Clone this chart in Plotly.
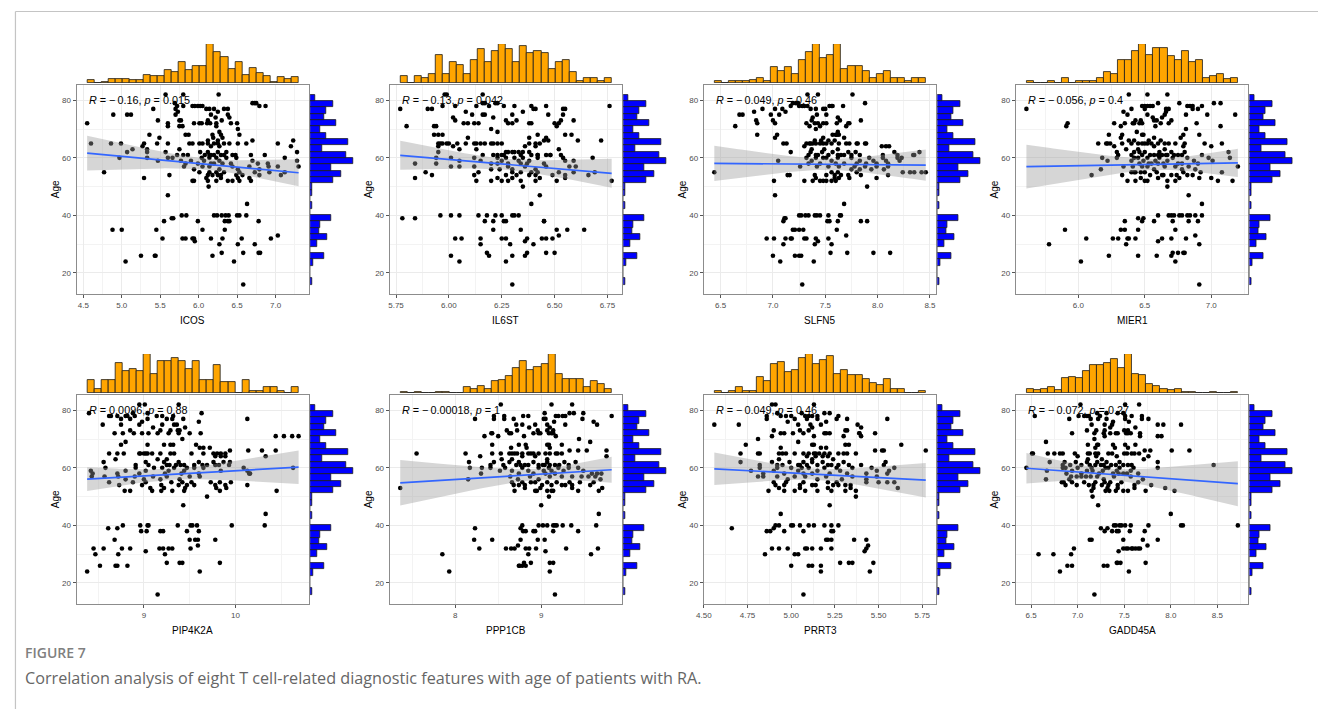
import numpy as np
import plotly.graph_objects as go

W, H = 1318, 709

# ---------------- data ----------------
GENES = ["ICOS", "IL6ST", "SLFN5", "MIER1", "PIP4K2A", "PPP1CB", "PRRT3", "GADD45A"]
R_TEXT = ["\u2212\u20090.16", "\u2212\u20090.13", "\u2212\u20090.049", "\u2212\u20090.056", "0.0096",
          "\u2212\u20090.00018", "\u2212\u20090.049", "\u2212\u20090.072"]
P_TEXT = ["0.015", "0.042", "0.46", "0.4", "0.88", "1", "0.46", "0.27"]
CAPTION_TITLE = "FIGURE 7"
CAPTION_TEXT = "Correlation analysis of eight T cell-related diagnostic features with age of patients with RA."

AGE = [16,
       24, 24,
       26, 26, 26, 26, 27, 27, 27, 27,
       30, 30, 30, 31,
       32, 32, 32, 32, 32, 32, 32, 32, 32, 33,
       35, 35, 35, 35, 35,
       38, 38, 38, 38, 38, 38,
       39, 39, 40, 40, 40, 40, 40, 40, 40, 40, 40, 40,
       44, 47, 50,
       52, 52, 52, 52, 52, 52, 52, 52,
       53, 53, 53, 53, 53,
       54, 54, 54, 54, 54, 54, 54, 54, 54,
       55, 55, 55, 55, 55, 55, 55, 55, 55,
       56, 56, 56, 56,
       57, 57, 57, 57, 57, 57, 57, 57,
       58, 58, 58, 58, 58, 58, 58, 58,
       59, 59, 59, 59, 59, 59, 59,
       60, 60, 60, 60, 60, 60, 60, 60, 60, 60,
       61, 61, 61, 61, 61, 61, 61, 61, 61, 61, 61, 61, 61,
       62, 62, 62, 62, 62, 62, 62, 62,
       63, 63, 63,
       64, 64, 64, 64,
       65, 65, 65, 65, 65, 65, 65, 65, 65, 65, 65, 65, 65, 65, 65, 65, 65, 65,
       66, 66, 66, 66,
       67, 67, 67,
       68, 68, 68, 68, 68, 68,
       69, 70, 71, 71, 71, 71,
       72, 72, 72, 72, 72, 72, 72, 72, 72, 72,
       73, 73, 73, 73, 73,
       74, 74,
       75, 75, 75, 75, 75, 75,
       76, 76,
       77, 77, 77, 77, 77, 77, 77,
       78, 78, 78, 78, 78, 78, 78, 78, 78,
       79, 79, 79, 79,
       82, 82, 82]

X_ICOS = [6.58,
          5.05, 6.46,
          5.25, 5.43, 5.44, 6.18, 6.30, 6.58, 6.78, 6.80,
          6.27, 6.51, 6.73, 5.95,
          5.53, 5.79, 5.83, 5.92, 5.94, 6.16, 6.31, 6.56, 6.94, 7.03,
          4.88, 5.00, 5.45, 6.05, 6.34,
          5.55, 5.99, 6.34, 6.38, 6.40, 6.78,
          5.65, 5.67, 5.78, 5.84, 6.20, 6.24, 6.30, 6.35, 6.39, 6.50, 6.53, 6.62,
          6.63, 5.60, 6.13,
          5.92, 5.94, 6.12, 6.23, 6.38, 6.44, 6.53, 6.68,
          5.29, 6.10, 6.29, 6.51, 6.66,
          5.62, 6.12, 6.18, 6.25, 6.29, 6.49, 6.57, 6.79, 7.07,
          4.77, 6.01, 6.14, 6.23, 6.33, 6.53, 6.73, 6.92, 7.12,
          5.94, 6.27, 6.51, 6.79,
          5.81, 6.05, 6.14, 6.44, 6.66, 6.91, 7.03, 7.30,
          5.83, 5.99, 6.16, 6.20, 6.31, 6.42, 6.77, 6.90,
          5.47, 5.77, 5.90, 6.07, 6.27, 6.70, 7.28,
          4.97, 5.33, 5.60, 5.66, 6.04, 6.14, 6.23, 6.36, 6.49, 7.12,
          5.72, 5.80, 5.86, 6.08, 6.14, 6.16, 6.29, 6.33, 6.44, 6.48, 6.68, 6.86, 6.20,
          5.07, 5.33, 5.57, 6.02, 6.12, 6.25, 6.36, 7.28,
          5.14, 5.33, 5.75,
          5.27, 6.16, 6.27, 7.20,
          4.60, 4.86, 4.99, 5.29, 5.46, 5.60, 5.88, 5.92, 6.01, 6.05, 6.12, 6.20, 6.25, 6.33, 6.40, 6.51, 6.62, 7.03,
          6.70, 7.23, 6.12, 6.25,
          5.49, 6.19, 6.31,
          5.36, 5.83, 5.87, 6.18, 6.29, 6.53,
          6.27, 6.51, 5.60, 5.75, 5.79, 6.23,
          5.60, 5.94, 6.01, 6.04, 4.55, 6.11, 6.15, 6.23, 6.42, 6.50,
          5.47, 5.75, 5.77, 6.12, 6.30,
          6.22, 6.40,
          4.89, 5.07, 5.12, 5.70, 6.16, 6.38,
          5.73, 6.25,
          5.41, 5.70, 6.14, 6.20, 6.33, 6.38, 6.10,
          5.72, 5.80, 5.92, 5.95, 5.99, 6.02, 6.05, 6.79, 6.87,
          5.69, 6.70, 6.73, 6.75,
          5.57, 5.80, 6.26]

X_IL6ST = [6.30,
           6.05, 6.27,
           6.01, 6.19, 6.30, 6.36, 6.37, 6.46, 6.50, 6.18,
           6.15, 6.29, 6.40, 6.36,
           6.03, 6.06, 6.15, 6.25, 6.27, 6.37, 6.44, 6.46, 6.49, 6.52,
           6.21, 6.34, 6.51, 6.56, 6.64,
           6.17, 6.21, 6.26, 6.27, 6.45, 6.45,
           5.78, 5.84, 5.96, 6.01, 6.05, 6.14, 6.18, 6.22, 6.25, 6.30, 6.31, 6.33,
           6.39, 6.43, 6.35,
           6.13, 6.20, 6.25, 6.28, 6.34, 6.41, 6.51, 6.77,
           5.84, 6.23, 6.30, 6.43, 6.55,
           5.92, 6.12, 6.27, 6.32, 6.38, 6.41, 6.49, 6.55, 6.66,
           5.89, 6.14, 6.30, 6.34, 6.39, 6.42, 6.52, 6.59, 6.69,
           6.20, 6.24, 6.30, 6.41,
           6.01, 6.05, 6.12, 6.28, 6.36, 6.46, 6.57, 6.60,
           5.84, 5.94, 6.20, 6.23, 6.28, 6.34, 6.37, 6.45,
           6.05, 6.15, 6.25, 6.33, 6.38, 6.55, 6.59,
           5.94, 6.01, 6.12, 6.23, 6.27, 6.31, 6.35, 6.42, 6.54, 6.68,
           6.39, 6.42, 6.42, 6.46, 6.48, 6.48, 6.53, 6.16, 6.21, 6.23, 6.25, 6.26, 6.34,
           5.95, 6.27, 6.28, 6.30, 6.31, 6.33, 6.35, 6.38,
           6.05, 6.13, 6.52,
           5.95, 6.02, 6.36, 6.41,
           5.95, 5.96, 5.97, 5.99, 6.00, 6.04, 6.08, 6.12, 6.13, 6.15, 6.17, 6.20, 6.21, 6.23, 6.25, 6.38, 6.41, 6.43,
           6.45, 6.47, 6.61, 6.72,
           6.38, 6.46, 6.09,
           5.93, 5.95, 5.97, 6.42, 6.55, 6.58,
           6.23, 6.20, 5.80, 5.93, 5.94, 6.51,
           6.07, 6.09, 6.12, 6.14, 6.28, 6.30, 6.38, 6.39, 6.50, 6.52,
           6.03, 6.27, 6.32, 6.59, 6.53,
           6.02, 6.21,
           6.11, 6.16, 6.17, 6.30, 6.47, 6.54,
           6.08, 6.35,
           5.77, 5.90, 5.92, 6.40, 6.41, 6.54, 6.55,
           5.97, 6.03, 6.13, 6.19, 6.26, 6.31, 6.39, 6.46, 6.76,
           6.16, 6.17, 6.22, 6.23,
           5.98, 5.99, 6.16]

X_SLFN5 = [7.28,
           7.07, 7.39,
           7.00, 7.21, 7.25, 7.27, 7.55, 7.71, 7.96, 8.12,
           7.10, 7.40, 7.56, 7.43,
           6.94, 7.01, 7.12, 7.17, 7.18, 7.30, 7.32, 7.41, 7.53, 7.70,
           7.19, 7.21, 7.25, 7.61, 7.29,
           7.10, 7.52, 7.54, 7.62, 7.84, 7.90,
           7.11, 7.12, 7.25, 7.27, 7.34, 7.42, 7.45, 7.53, 7.64, 7.65, 7.31, 7.40,
           7.68, 7.02, 7.90,
           7.01, 7.30, 7.38, 7.45, 7.48, 7.51, 7.56, 7.60,
           7.59, 7.99, 7.41, 7.63, 7.73,
           7.14, 7.16, 7.40, 7.51, 7.59, 7.65, 7.72, 7.84, 8.10,
           6.44, 7.56, 7.62, 8.24, 8.31, 8.35, 8.42, 8.46, 7.80,
           7.75, 7.83, 7.94, 8.06,
           7.26, 7.42, 7.53, 7.63, 7.78, 7.88, 7.99, 8.10,
           7.34, 7.45, 7.68, 7.89, 7.99, 8.10, 7.80, 7.60,
           7.05, 7.37, 7.56, 7.83, 7.96, 8.08, 8.21,
           7.32, 7.41, 7.51, 7.62, 7.75, 7.92, 8.05, 8.19, 8.23, 7.48,
           7.34, 7.43, 7.53, 7.62, 7.68, 7.75, 7.83, 8.05, 8.19, 8.34, 8.35, 7.65, 7.41,
           7.17, 7.36, 7.47, 7.57, 7.72, 7.79, 8.16, 8.40,
           7.37, 7.49, 7.62,
           8.04, 8.08, 8.11, 7.30,
           7.10, 7.13, 7.32, 7.35, 7.38, 7.41, 7.45, 7.48, 7.51, 7.56, 7.63, 7.70, 7.73, 7.80, 7.81, 7.88, 7.89, 7.36,
           7.46, 7.53, 7.59, 7.40,
           7.02, 7.48, 7.68,
           6.85, 7.04, 7.57, 7.60, 7.61, 7.63,
           7.62, 7.41, 6.64, 7.45, 7.70, 7.35,
           7.32, 7.40, 7.43, 7.48, 7.51, 7.61, 7.72, 7.73, 6.85, 7.02,
           6.84, 7.00, 7.37, 7.64, 7.84,
           7.38, 7.62,
           6.68, 6.71, 6.98, 7.06, 7.51, 7.42,
           6.82, 7.12,
           6.90, 7.02, 7.09, 7.41, 7.48, 7.50, 7.36,
           7.17, 7.25, 7.28, 7.30, 7.33, 7.54, 7.56, 7.57, 7.67,
           7.19, 7.22, 7.24, 7.88,
           7.33, 7.43, 7.76]

X_MIER1 = [6.91,
           6.02, 6.73,
           6.23, 6.45, 6.59, 6.70, 6.71, 6.75, 6.79, 6.80,
           5.78, 6.36, 6.91, 6.60,
           6.06, 6.26, 6.30, 6.37, 6.38, 6.43, 6.63, 6.70, 6.81, 6.88,
           5.90, 6.32, 6.35, 6.45, 6.73,
           6.35, 6.48, 6.57, 6.71, 6.83, 6.90,
           6.45, 6.49, 6.68, 6.70, 6.72, 6.76, 6.78, 6.82, 6.84, 6.88, 6.93, 6.60,
           6.93, 6.83, 6.67,
           6.37, 6.43, 6.50, 6.52, 6.67, 6.73, 7.05, 7.16,
           6.47, 6.60, 6.76, 6.91, 7.00,
           6.10, 6.33, 6.54, 6.63, 6.70, 6.86, 6.74, 6.82, 6.64,
           6.40, 6.42, 6.43, 6.59, 6.79, 6.92, 7.08, 6.47, 6.50,
           6.17, 6.57, 6.78, 6.88,
           6.34, 6.41, 6.52, 6.65, 6.73, 6.83, 7.20, 6.48,
           6.46, 6.55, 6.64, 6.75, 6.78, 6.90, 6.60, 6.53,
           6.22, 6.40, 6.49, 6.58, 6.67, 6.87, 7.01,
           6.18, 6.29, 6.42, 6.52, 6.61, 6.71, 6.82, 6.98, 7.14, 6.45,
           6.30, 6.40, 6.48, 6.54, 6.57, 6.63, 6.66, 6.72, 6.78, 6.93, 6.60, 6.67, 6.75,
           6.29, 6.42, 6.50, 6.61, 6.70, 6.80, 7.13, 6.46,
           6.45, 6.65, 6.36,
           6.27, 6.57, 6.79, 7.00,
           6.15, 6.21, 6.22, 6.24, 6.33, 6.40, 6.45, 6.48, 6.50, 6.52, 6.55, 6.60, 6.65, 6.68, 6.73, 6.80, 6.95, 7.08,
           6.38, 6.42, 6.62, 6.53,
           6.32, 6.57, 6.77,
           6.23, 6.33, 6.48, 6.49, 6.79, 6.91,
           6.44, 6.81, 5.91, 6.32, 6.58, 7.07,
           5.92, 6.27, 6.35, 6.41, 6.42, 6.46, 6.48, 6.62, 6.68, 6.89,
           6.57, 6.59, 6.43, 6.70, 6.47,
           6.56, 6.63,
           6.37, 6.52, 6.65, 6.81, 6.97, 7.18,
           6.34, 6.66,
           5.61, 6.40, 6.66, 6.68, 6.86, 6.90, 6.50,
           6.48, 6.50, 6.52, 6.54, 6.56, 6.82, 6.84, 6.86, 6.93,
           6.60, 6.76, 7.02, 7.07,
           6.38, 6.52, 6.67]

X_PIP4K2A = [9.15,
             9.61, 8.38,
             8.52, 8.69, 8.71, 8.82, 9.25, 9.39, 9.42, 9.83,
             8.47, 8.72, 9.23, 9.02,
             8.45, 8.56, 8.76, 8.85, 9.17, 9.21, 9.27, 9.31, 9.51, 9.59,
             8.68, 9.50, 9.56, 9.59, 9.78,
             8.97, 9.03, 9.18, 9.21, 9.47, 9.60,
             8.61, 8.71, 8.77, 8.96, 9.05, 9.37, 9.51, 9.53, 9.96, 10.32, 9.04, 9.58,
             10.33, 9.43, 9.69,
             8.79, 8.85, 9.09, 9.19, 9.31, 9.44, 9.83, 10.45,
             9.07, 9.22, 9.45, 9.79, 9.90,
             8.73, 8.98, 9.19, 9.38, 9.47, 9.55, 9.78, 9.89, 10.13,
             8.62, 8.88, 9.02, 9.30, 9.42, 9.52, 9.73, 9.83, 9.95,
             8.80, 9.00, 9.18, 9.39,
             8.43, 8.57, 8.72, 8.90, 9.10, 9.25, 9.50, 9.61,
             8.44, 8.71, 8.95, 9.23, 9.41, 9.60, 10.15, 10.16,
             8.42, 8.80, 9.02, 9.27, 9.44, 10.13, 9.84,
             8.58, 8.91, 9.20, 9.33, 9.55, 10.09, 10.63, 9.47, 9.11, 9.65,
             8.91, 9.05, 9.28, 9.40, 9.64, 9.69, 9.78, 9.82, 9.93, 9.25, 9.44, 9.55, 9.35,
             8.56, 9.02, 9.22, 9.38, 9.60, 9.76, 9.87, 9.94,
             8.69, 9.15, 9.25,
             9.78, 9.84, 9.89, 10.33,
             8.62, 8.71, 8.78, 8.95, 8.96, 9.00, 9.02, 9.04, 9.09, 9.18, 9.29, 9.33, 9.52, 9.65, 9.76, 9.80, 9.84, 9.89,
             9.94, 10.14, 10.29, 10.44,
             9.61, 9.65, 9.72,
             8.75, 9.04, 9.22, 9.29, 9.32, 9.57,
             8.80, 9.42, 10.44, 10.53, 10.62, 10.69,
             8.77, 8.89, 8.98, 9.15, 9.38, 9.50, 9.62, 9.05, 9.27, 8.68,
             9.18, 9.29, 9.37, 9.39, 8.85,
             9.10, 9.45,
             8.75, 8.95, 9.20, 9.33, 9.36, 8.55,
             8.98, 9.60,
             8.75, 8.85, 9.04, 9.25, 9.31, 9.43, 10.13,
             8.62, 8.64, 8.71, 8.80, 8.82, 8.90, 9.14, 9.20, 9.32,
             8.40, 8.88, 9.04, 9.63,
             8.95, 9.01, 9.38]

X_PPP1CB = [9.16,
            7.93, 9.10,
            8.74, 8.75, 8.78, 8.82, 8.88, 9.10, 9.14, 8.80,
            7.85, 8.85, 9.58, 9.05,
            8.28, 8.59, 8.65, 8.69, 8.82, 8.86, 8.94, 9.29, 9.66, 8.73,
            8.22, 8.43, 8.76, 8.96, 9.04,
            8.79, 8.82, 8.91, 8.93, 9.14, 9.43,
            8.23, 8.76, 8.97, 9.07, 9.14, 9.16, 9.18, 9.25, 9.35, 9.64, 8.78, 9.02,
            9.67, 9.00, 9.09,
            8.69, 8.93, 8.95, 9.07, 9.12, 9.14, 9.43, 9.67,
            7.36, 8.81, 8.99, 9.36, 9.71,
            8.74, 8.81, 9.01, 9.12, 9.24, 9.36, 9.57, 8.68, 9.28,
            8.66, 8.78, 8.93, 9.07, 9.18, 9.33, 9.45, 9.61, 8.88,
            8.15, 8.73, 8.97, 9.69,
            8.64, 8.87, 9.10, 9.24, 9.36, 9.47, 9.55, 9.63,
            8.30, 8.74, 8.91, 9.05, 9.16, 9.59, 9.65, 9.70,
            8.52, 8.66, 8.85, 9.03, 9.12, 9.26, 9.49,
            8.17, 8.41, 8.58, 8.78, 8.97, 9.09, 9.20, 9.32, 9.43, 8.31,
            8.41, 8.56, 8.71, 8.81, 8.85, 8.97, 9.04, 9.10, 9.16, 9.21, 9.32, 8.76, 9.02,
            8.16, 8.45, 8.63, 8.74, 8.91, 9.07, 9.27, 9.40,
            8.54, 8.66, 9.07,
            8.29, 8.78, 8.93, 9.76,
            7.55, 8.12, 8.43, 8.53, 8.63, 8.66, 8.69, 8.72, 8.78, 8.85, 8.88, 8.91, 8.97, 9.05, 9.10, 9.17, 9.19, 9.24,
            9.33, 9.43, 9.53, 9.76,
            8.65, 8.83, 9.10,
            8.43, 8.74, 8.82, 9.07, 9.09, 9.24,
            9.57, 9.44, 8.34, 8.50, 8.80, 9.17,
            8.42, 8.43, 8.63, 8.65, 8.91, 8.97, 8.99, 9.09, 9.12, 9.14,
            8.96, 9.07, 9.14, 8.72, 8.60,
            8.86, 9.10,
            8.71, 8.78, 8.93, 9.07, 9.28, 9.65,
            9.15, 9.61,
            8.23, 8.45, 8.57, 9.03, 9.48, 8.68, 9.05,
            8.45, 8.57, 8.79, 8.85, 9.17, 9.20, 9.25, 9.28, 9.82,
            9.04, 9.33, 9.38, 9.49,
            8.53, 9.12, 9.36]

X_PRRT3 = [5.07,
           5.45, 5.17,
           5.00, 5.10, 5.12, 5.17, 5.28, 5.33, 5.35, 5.47,
           4.85, 5.02, 5.04, 5.42,
           4.89, 4.93, 4.98, 5.08, 5.09, 5.12, 5.17, 5.23, 5.43, 5.44,
           5.20, 5.21, 5.23, 5.36, 5.43,
           4.86, 4.88, 4.96, 5.07, 5.23, 5.24,
           4.66, 4.90, 4.91, 4.93, 5.00, 5.01, 5.05, 5.10, 5.13, 5.19, 5.23, 5.27,
           4.94, 5.22, 5.37,
           4.87, 4.96, 5.02, 5.08, 5.15, 5.23, 5.31, 5.37,
           4.93, 5.05, 5.21, 5.34, 5.61,
           4.91, 4.96, 5.05, 5.12, 5.14, 5.24, 5.27, 5.31, 5.34,
           4.90, 4.97, 5.07, 5.21, 5.26, 5.43, 5.50, 5.55, 5.59,
           4.98, 5.15, 5.29, 5.43,
           4.81, 4.84, 4.92, 5.08, 5.20, 5.35, 5.49, 5.02,
           4.84, 4.96, 5.07, 5.12, 5.22, 5.32, 5.43, 5.55,
           4.77, 4.90, 5.04, 5.15, 5.28, 5.49, 5.56,
           4.82, 4.92, 5.00, 5.10, 5.19, 5.26, 5.35, 5.46, 5.59, 5.06,
           4.82, 4.92, 4.95, 5.04, 5.05, 5.09, 5.15, 5.21, 5.23, 5.27, 5.33, 5.40, 5.53,
           4.71, 4.89, 4.99, 5.07, 5.18, 5.30, 5.54, 5.12,
           4.93, 5.24, 5.12,
           5.09, 5.14, 5.18, 5.21,
           4.71, 4.81, 4.82, 4.93, 4.95, 4.97, 5.02, 5.07, 5.10, 5.13, 5.14, 5.16, 5.19, 5.22, 5.27, 5.30, 5.32, 5.37,
           5.48, 5.52, 5.53, 5.77,
           4.94, 5.20, 5.17,
           4.74, 5.12, 5.13, 5.31, 5.33, 5.63,
           5.04, 4.81, 4.89, 5.13, 5.40, 5.30,
           4.94, 4.96, 5.07, 5.19, 5.20, 5.22, 5.39, 5.39, 5.48, 5.01,
           4.90, 5.10, 5.31, 5.32, 5.05,
           5.12, 5.40,
           4.56, 4.70, 5.04, 5.11, 5.17, 5.38,
           4.98, 5.20,
           4.86, 5.09, 5.26, 5.32, 5.55, 5.15, 5.02,
           4.86, 4.94, 4.97, 5.00, 5.08, 5.10, 5.12, 5.15, 5.27,
           4.92, 5.06, 5.19, 5.22,
           4.89, 4.91, 5.13]

X_GADD45A = [7.18,
             6.81, 7.55,
             6.89, 6.94, 7.28, 7.32, 7.42, 7.43, 7.46, 7.73,
             6.58, 6.74, 6.93, 7.44,
             6.96, 7.49, 7.52, 7.54, 7.58, 7.59, 7.62, 7.65, 7.67, 7.75,
             7.13, 7.15, 7.49, 7.70, 7.86,
             7.29, 7.37, 7.42, 7.44, 7.56, 7.72,
             7.25, 7.32, 7.39, 7.41, 7.45, 7.51, 7.57, 7.76, 8.11, 8.13, 8.72, 7.47,
             8.00, 7.22, 7.16,
             7.15, 7.30, 7.34, 7.41, 7.49, 7.54, 7.73, 8.04,
             7.17, 7.32, 7.43, 7.61, 7.94,
             6.87, 6.99, 7.12, 7.26, 7.33, 7.43, 7.61, 7.79, 7.17,
             6.83, 6.94, 7.07, 7.19, 7.29, 7.35, 7.47, 7.65, 6.85,
             6.66, 6.91, 7.28, 7.70,
             6.93, 6.99, 7.09, 7.21, 7.39, 7.57, 7.04, 7.14,
             6.88, 7.04, 7.23, 7.38, 7.49, 7.53, 7.65, 7.44,
             6.67, 6.94, 7.10, 7.27, 7.42, 7.57, 7.16,
             6.45, 6.84, 7.00, 7.15, 7.33, 7.45, 7.60, 7.86, 6.87, 7.30,
             6.84, 6.92, 7.04, 7.13, 7.19, 7.25, 7.28, 7.36, 7.41, 7.49, 7.54, 7.58, 8.46,
             6.70, 6.86, 6.98, 7.10, 7.21, 7.31, 7.45, 7.86,
             7.11, 7.26, 7.71,
             7.00, 7.20, 7.42, 7.76,
             6.51, 6.52, 6.68, 6.75, 6.81, 6.84, 6.97, 7.11, 7.13, 7.19, 7.22, 7.33, 7.37, 7.50, 7.53, 7.58, 7.61, 7.66,
             7.72, 7.78, 8.01, 8.20,
             7.19, 7.40, 7.54,
             7.11, 7.21, 7.22, 7.38, 7.51, 7.62,
             6.66, 7.18, 7.29, 7.67, 7.86, 7.90,
             6.94, 7.18, 7.28, 7.41, 7.43, 7.52, 7.54, 7.57, 7.67, 7.35,
             7.10, 7.29, 7.50, 7.54, 7.20,
             7.35, 7.62,
             7.15, 7.37, 7.86, 7.92, 8.11, 7.29,
             7.38, 7.55,
             6.91, 7.14, 7.22, 7.31, 7.51, 7.69, 7.76,
             6.54, 7.01, 7.07, 7.10, 7.12, 7.24, 7.51, 7.58, 7.69,
             7.21, 7.31, 7.43, 7.49,
             7.03, 7.51, 7.66]

EXPR = [X_ICOS, X_IL6ST, X_SLFN5, X_MIER1, X_PIP4K2A, X_PPP1CB, X_PRRT3, X_GADD45A]

# ---------------- layout settings (pixels) ----------------
COL_LEFT = [69, 384, 700, 1014]
ROW_TOP = [85, 395]
BOX_W, BOX_H = 234, 209
XTICK = [(0.5, ".1f"), (0.25, ".2f"), (0.5, ".1f"), (0.5, ".1f"),
         (1, "d"), (1, "d"), (0.25, ".2f"), (0.5, ".1f")]
FONT = "Liberation Sans, Arial, sans-serif"


def fx(px):
    return px / W


def fy(py):
    return 1 - py / H


def nm(k):
    return "" if k == 1 else str(k)


def hist_rc(v, nb=30):
    """ggplot-like histogram: 30 bins spanning the data range, right-closed."""
    v = np.asarray(v, float)
    lo, hi = v.min(), v.max()
    edges = lo + (hi - lo) * np.arange(nb + 1) / nb
    idx = np.searchsorted(edges, v - 1e-9, side="left") - 1
    idx = np.clip(idx, 0, nb - 1)
    counts = np.bincount(idx, minlength=nb)
    centers = (edges[:-1] + edges[1:]) / 2
    return centers, counts, (hi - lo) / nb


def lm_band(x, y, n_pts=80):
    x = np.asarray(x, float)
    y = np.asarray(y, float)
    n = len(x)
    b1, b0 = np.polyfit(x, y, 1)
    xs = np.linspace(x.min(), x.max(), n_pts)
    yh = b0 + b1 * xs
    res = y - (b0 + b1 * x)
    s = np.sqrt((res ** 2).sum() / (n - 2))
    sxx = ((x - x.mean()) ** 2).sum()
    se = s * np.sqrt(1.0 / n + (xs - x.mean()) ** 2 / sxx)
    t = 1.9703
    return xs, yh, yh - t * se, yh + t * se


fig = go.Figure()
lay = {}
ann = []

ages = np.asarray(AGE, float)
a_c, a_n, a_w = hist_rc(ages)

for i, (gene, xv) in enumerate(zip(GENES, EXPR)):
    if len(xv) != len(AGE):
        raise ValueError(f"{gene}: {len(xv)} values vs {len(AGE)} ages")
    r, c = divmod(i, 4)
    L, T = COL_LEFT[c], ROW_TOP[r]
    km, kt, kr = 3 * i + 1, 3 * i + 2, 3 * i + 3
    x = np.asarray(xv, float)
    xlo, xhi = x.min(), x.max()
    xp = 0.05 * (xhi - xlo)
    xr = [xlo - xp, xhi + xp]
    yp = 0.05 * (ages.max() - ages.min())
    yr = [ages.min() - yp, ages.max() + yp]

    fig.add_trace(go.Scatter(x=x, y=ages, mode="markers",
                             marker=dict(color="black", size=4.6),
                             xaxis="x" + nm(km), yaxis="y" + nm(km),
                             showlegend=False, hoverinfo="skip"))
    xs, yh, lo, hi = lm_band(x, ages)
    fig.add_trace(go.Scatter(x=np.concatenate([xs, xs[::-1]]),
                             y=np.concatenate([lo, hi[::-1]]),
                             fill="toself", fillcolor="rgba(153,153,153,0.4)",
                             line=dict(width=0), mode="lines",
                             xaxis="x" + nm(km), yaxis="y" + nm(km),
                             showlegend=False, hoverinfo="skip"))
    fig.add_trace(go.Scatter(x=xs, y=yh, mode="lines",
                             line=dict(color="#3366FF", width=1.7),
                             xaxis="x" + nm(km), yaxis="y" + nm(km),
                             showlegend=False, hoverinfo="skip"))

    h_c, h_n, h_w = hist_rc(x)
    fig.add_trace(go.Bar(x=h_c, y=h_n, width=h_w,
                         marker=dict(color="#FFA500", line=dict(color="#1a1a1a", width=0.8)),
                         xaxis="x" + nm(kt), yaxis="y" + nm(kt),
                         showlegend=False, hoverinfo="skip"))
    fig.add_trace(go.Bar(y=a_c, x=a_n, width=a_w, orientation="h",
                         marker=dict(color="#0000FF", line=dict(color="#1a1a1a", width=0.8)),
                         xaxis="x" + nm(kr), yaxis="y" + nm(kr),
                         showlegend=False, hoverinfo="skip"))

    dt, fmt = XTICK[i]
    xdom = [fx(L), fx(L + BOX_W)]
    ydom = [fy(T + BOX_H), fy(T)]
    lay["xaxis" + nm(km)] = dict(
        domain=xdom, anchor="y" + nm(km), range=xr, dtick=dt, tick0=0, tickformat=fmt,
        showline=True, mirror=True, linecolor="#8c8c8c", linewidth=1,
        ticks="outside", ticklen=3, tickcolor="#555", tickwidth=1,
        tickfont=dict(size=8, color="#4d4d4d", family=FONT),
        showgrid=True, gridcolor="#ebebeb", gridwidth=1, zeroline=False,
        minor=dict(dtick=dt / 2, tick0=0, showgrid=True, gridcolor="#f3f3f3", gridwidth=0.6),
    )
    lay["yaxis" + nm(km)] = dict(
        domain=ydom, anchor="x" + nm(km), range=yr, dtick=20, tick0=0,
        showline=True, mirror=True, linecolor="#8c8c8c", linewidth=1,
        ticks="outside", ticklen=3, tickcolor="#555", tickwidth=1,
        tickfont=dict(size=8, color="#4d4d4d", family=FONT),
        showgrid=True, gridcolor="#ebebeb", gridwidth=1, zeroline=False,
        minor=dict(dtick=10, tick0=0, showgrid=True, gridcolor="#f3f3f3", gridwidth=0.6),
    )
    lay["xaxis" + nm(kt)] = dict(domain=xdom, anchor="y" + nm(kt), range=xr, visible=False)
    lay["yaxis" + nm(kt)] = dict(domain=[fy(T - 2), fy(T - 41)], anchor="x" + nm(kt),
                                 range=[0, h_n.max() * 1.0], visible=False)
    lay["xaxis" + nm(kr)] = dict(domain=[fx(L + BOX_W + 1), fx(L + BOX_W + 46)],
                                 anchor="y" + nm(kr), range=[0, a_n.max() * 1.03], visible=False)
    lay["yaxis" + nm(kr)] = dict(domain=ydom, anchor="x" + nm(kr), range=yr, visible=False)

    ann.append(dict(text=f"<i>R</i> = {R_TEXT[i]}, <i>p</i> = {P_TEXT[i]}",
                    xref="x" + nm(km) + " domain", yref="y" + nm(km),
                    x=0.045, y=80, xanchor="left", yanchor="middle", showarrow=False,
                    font=dict(size=10.8, color="black", family=FONT)))
    ann.append(dict(text=gene, xref="paper", yref="paper",
                    x=fx(L + BOX_W / 2), y=fy(T + BOX_H + 26), xanchor="center", yanchor="middle",
                    showarrow=False, font=dict(size=10, color="black", family=FONT)))
    ann.append(dict(text="Age", xref="paper", yref="paper", textangle=-90,
                    x=fx(L - 21), y=fy(T + BOX_H / 2), xanchor="center", yanchor="middle",
                    showarrow=False, font=dict(size=10, color="black", family=FONT)))

ann.append(dict(text=CAPTION_TITLE, xref="paper", yref="paper", x=fx(15), y=fy(652),
                xanchor="left", yanchor="middle", showarrow=False,
                font=dict(size=14, color="#808080", family="Open Sans", weight=600)))
ann.append(dict(text=CAPTION_TEXT, xref="paper", yref="paper", x=fx(15), y=fy(678),
                xanchor="left", yanchor="middle", showarrow=False,
                font=dict(size=16.2, color="#666666", family="Open Sans")))

shapes = [
    dict(type="line", xref="paper", yref="paper", x0=fx(7.5), x1=fx(7.5), y0=fy(11.5), y1=0,
         line=dict(color="#c4c4c4", width=1.2)),
    dict(type="line", xref="paper", yref="paper", x0=fx(7.5), x1=1, y0=fy(11.5), y1=fy(11.5),
         line=dict(color="#c4c4c4", width=1.2)),
]

fig.update_layout(width=W, height=H, autosize=False,
                  margin=dict(l=0, r=0, t=0, b=0),
                  paper_bgcolor="white", plot_bgcolor="white",
                  bargap=0, annotations=ann, shapes=shapes, **lay)

fig.write_html("out.html",
               post_script="document.body.style.margin='0px';document.body.style.padding='0px';")
